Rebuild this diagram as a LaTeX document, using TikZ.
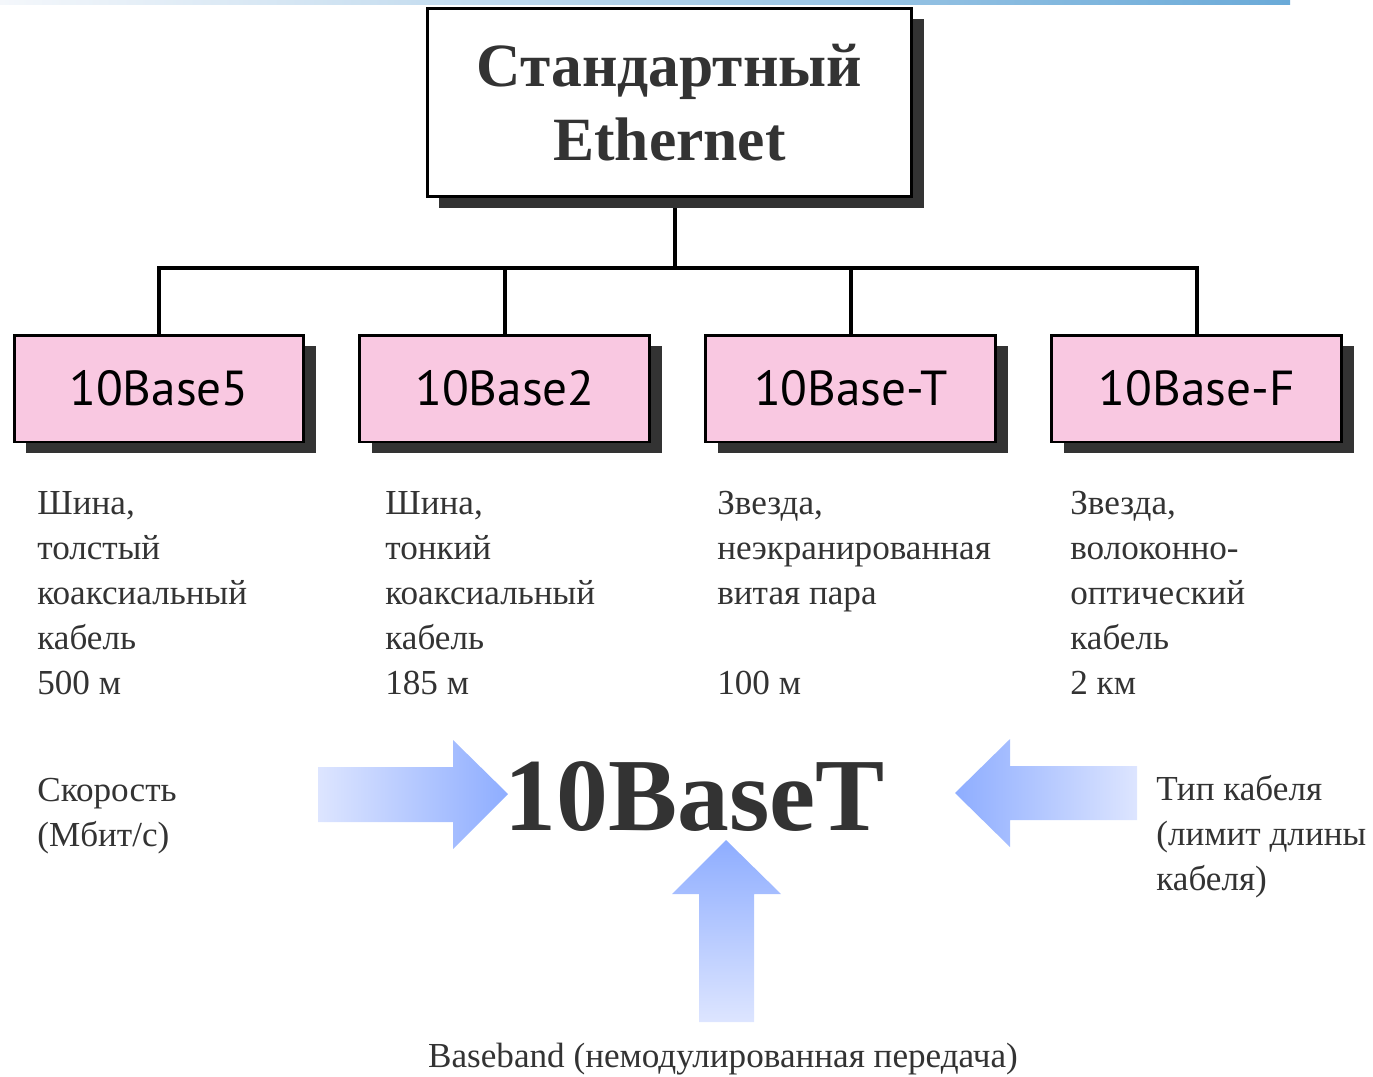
\documentclass[tikz,border=0pt]{standalone}
\usepackage{fontspec}
\setmainfont{Liberation Serif}
\newfontfamily\boxfont{PT Sans}
\usepackage{tikz}
\usetikzlibrary{positioning,shadows,backgrounds}

\definecolor{pinkfill}{HTML}{F9C8E1}
\definecolor{txtgray}{HTML}{333333}
\definecolor{arrowdark}{HTML}{8EADFF}
\definecolor{arrowlight}{HTML}{DDE5FF}
\definecolor{barblue}{HTML}{6AAAD8}
\definecolor{barlight}{HTML}{F4F7FB}

\begin{document}
\begin{tikzpicture}[x=0.02cm, y=-0.02cm,
    boxshadow/.style={drop shadow={opacity=1, fill=black!80, shadow xshift=0.24cm, shadow yshift=-0.22cm}},
    stdbox/.style={rectangle, draw, line width=1.7pt, fill=white, minimum width=9.7cm, minimum height=3.78cm, align=center, text=txtgray, font=\fontsize{35}{42}\selectfont\bfseries, boxshadow},
    block/.style={rectangle, draw, line width=1.7pt, fill=pinkfill, minimum width=5.8cm, minimum height=2.14cm, font=\boxfont\fontsize{28}{30}\selectfont, boxshadow},
    note/.style={anchor=north west, inner sep=0pt, align=left, text=txtgray, font=\fontsize{20}{25.6}\selectfont},
    link/.style={line width=2.3pt}
]
\useasboundingbox (0,0) rectangle (1373,1076);

% top bar
\shade[left color=barlight, right color=barblue] (0,0) rectangle (1290,4);

\node[stdbox] (std) at (669.5,102.5) {Стандартный\\Ethernet};

\node[block] (b5) at (159,388.5) {10Base5};
\node[block, right=1.06cm of b5] (b2) {10Base2};
\node[block, right=1.06cm of b2] (bT) {10Base-T};
\node[block, right=1.06cm of bT] (bF) {10Base-F};

\coordinate (bus) at (675,268);

\begin{scope}[on background layer]
\draw[link] (bus |- std.south) -- (bus);
\draw[link] (b5) |- (bus) -| (bF);
\draw[link] (b2) -- (b2 |- bus);
\draw[link] (bT) -- (bT |- bus);
\end{scope}

\node[note] (n5) at (37,491) {Шина,\\толстый\\коаксиальный\\кабель\\500 м};
\node[note] (n2) at (385,491) {Шина,\\тонкий\\коаксиальный\\кабель\\185 м};
\node[note] (nT) at (717,491) {Звезда,\\неэкранированная\\витая пара\\~\\100 м};
\node[note] (nF) at (1070,491) {Звезда,\\волоконно-\\оптический\\кабель\\2 км};

% 10BaseT and its parts
\node[anchor=base, inner sep=0pt, text=txtgray, font=\fontsize{59}{60}\selectfont\bfseries] (code) at (695,830) {10BaseT};

\node[note] (speed) at (37,778) {Скорость\\(Мбит/с)};
\node[note] (cable) at (1156,775) {Тип кабеля\\(лимит длины\\кабеля)};
\node[anchor=base, inner sep=0pt, text=txtgray, font=\fontsize{20}{25.6}\selectfont] (band) at (723,1067) {Baseband (немодулированная передача)};

\shade[left color=arrowlight, right color=arrowdark] (318,767) -- (453,767) -- (453,740) -- (508,794) -- (453,849) -- (453,822) -- (318,822) -- cycle;
\shade[left color=arrowdark, right color=arrowlight] (955,793) -- (1010,739) -- (1010,766) -- (1137,766) -- (1137,820) -- (1010,820) -- (1010,847) -- cycle;
\shade[top color=arrowdark, bottom color=arrowlight] (726,840) -- (781,894) -- (754,894) -- (754,1022) -- (699,1022) -- (699,894) -- (672,894) -- cycle;

\end{tikzpicture}
\end{document}
